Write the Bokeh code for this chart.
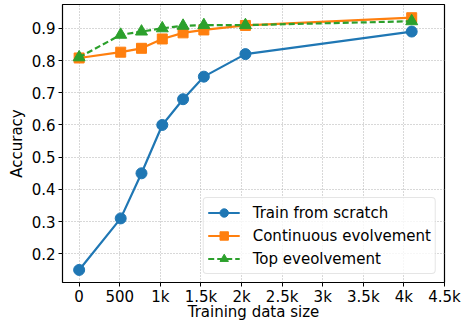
from bokeh.plotting import figure
from bokeh.models import FixedTicker, Range1d, Legend, LegendItem
from bokeh.embed import file_html
from bokeh.resources import INLINE

sizes = [0, 512, 768, 1024, 1280, 1536, 2048, 4096]
scratch = [0.15, 0.31, 0.45, 0.60, 0.68, 0.75, 0.82, 0.89]
continuous = [0.808, 0.826, 0.838, 0.867, 0.886, 0.895, 0.909, 0.933]
top_evol = [0.81, 0.880, 0.890, 0.900, 0.908, 0.910, 0.910, 0.922]

x_ticks = [0, 500, 1000, 1500, 2000, 2500, 3000, 3500, 4000, 4500]
x_tick_labels = ["0", "500", "1k", "1.5k", "2k", "2.5k", "3k", "3.5k", "4k", "4.5k"]
y_ticks = [0.2, 0.3, 0.4, 0.5, 0.6, 0.7, 0.8, 0.9]

FONT = "DejaVu Sans"
FS = "15px"

p = figure(frame_width=382, frame_height=278, output_backend="svg", toolbar_location=None,
           x_range=Range1d(-205, 4500), y_range=Range1d(0.111, 0.974),
           min_border_top=4, min_border_right=20, min_border_left=62, min_border_bottom=0)

p.outline_line_color = "black"
p.outline_line_width = 1.2
p.background_fill_color = "white"
p.border_fill_color = "white"

for ax in (p.xaxis[0], p.yaxis[0]):
    ax.axis_line_color = None
    ax.major_tick_out = 4
    ax.major_tick_in = 0
    ax.minor_tick_line_color = None
    ax.major_tick_line_color = "black"
    ax.major_label_text_font = FONT
    ax.major_label_text_font_size = FS
    ax.major_label_text_color = "black"
    ax.axis_label_text_font = FONT
    ax.axis_label_text_font_size = FS
    ax.axis_label_text_font_style = "normal"
    ax.axis_label_text_color = "black"

p.xaxis.major_label_standoff = 1
p.xaxis.axis_label_standoff = -6
p.yaxis.major_label_standoff = 3
p.yaxis.axis_label_standoff = 3

p.xaxis.ticker = FixedTicker(ticks=x_ticks)
p.xaxis.major_label_overrides = {t: l for t, l in zip(x_ticks, x_tick_labels)}
p.yaxis.ticker = FixedTicker(ticks=y_ticks)
p.yaxis.major_label_overrides = {t: f"{t:.1f}" for t in y_ticks}
p.xaxis.axis_label = "Training data size"
p.yaxis.axis_label = "Accuracy"

for g in (p.xgrid[0], p.ygrid[0]):
    g.grid_line_color = "#b0b0b0"
    g.grid_line_dash = "1 2"
    g.grid_line_width = 1

blue, orange, green = "#1f77b4", "#ff7f0e", "#2ca02c"

l1 = p.line(sizes, scratch, line_color=blue, line_width=2.2)
m1 = p.scatter(sizes, scratch, marker="circle", size=11, fill_color=blue, line_color=blue)
l2 = p.line(sizes, continuous, line_color=orange, line_width=2.2)
m2 = p.scatter(sizes, continuous, marker="square", size=10, fill_color=orange, line_color=orange)
l3 = p.line(sizes, top_evol, line_color=green, line_width=2.2, line_dash="6 3")
m3 = p.scatter(sizes, top_evol, marker="triangle", size=12, fill_color=green, line_color=green)

legend = Legend(items=[
    LegendItem(label="Train from scratch", renderers=[l1, m1]),
    LegendItem(label="Continuous evolvement", renderers=[l2, m2]),
    LegendItem(label="Top eveolvement", renderers=[l3, m3]),
], location="bottom_right")
legend.label_text_font = FONT
legend.label_text_font_size = FS
legend.label_text_color = "black"
legend.glyph_width = 32
legend.glyph_height = 21
legend.label_height = 21
legend.spacing = 2
legend.padding = 4
legend.margin = 8
legend.label_standoff = 13
legend.border_line_color = "#cccccc"
legend.border_line_width = 1
legend.border_radius = 4
legend.background_fill_alpha = 0.8
p.add_layout(legend)

open("out.html", "w").write(file_html(p, INLINE))
